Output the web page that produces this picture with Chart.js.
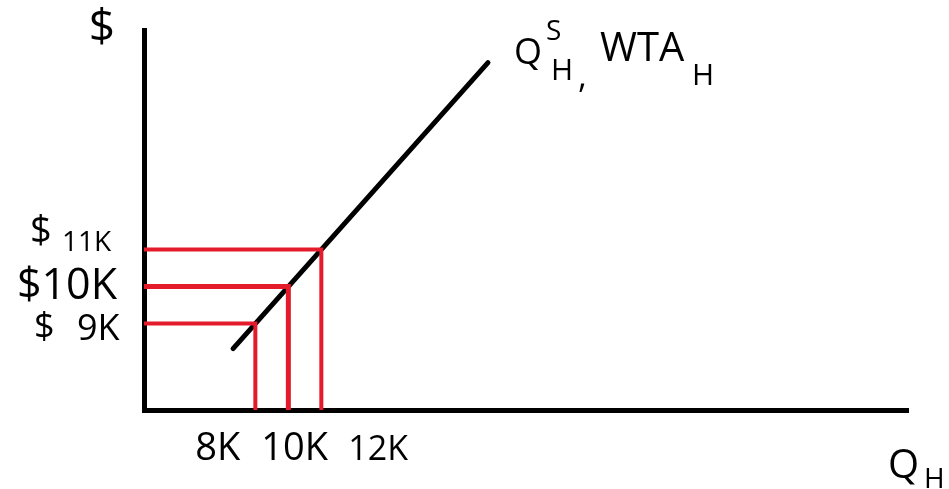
<!DOCTYPE html>
<html>
<head>
<meta charset="utf-8">
<script src="https://cdn.jsdelivr.net/npm/chart.js@4.4.1/dist/chart.umd.min.js"></script>
<style>
  body { margin: 0; background: #fff; }
  #wrap { width: 949px; height: 489px; }
</style>
</head>
<body>
<div id="wrap"><canvas id="supplyChart" width="949" height="489"></canvas></div>
<script>
// Housing supply curve (also WTA) with three price/quantity read-offs
const quantities = [8000, 10000, 12000];
const prices = [9000, 10000, 11000];
const supplyQ = [6650, 22100];
const supplyP = [8320, 16050];
const qRange = [1250, 47560];
const pRange = [6660, 16930];

const RED = '#e31b2b';
const HAND = '"Open Sans", "DejaVu Sans", sans-serif';

function kLabel(v) {
    return (v / 1000) + 'K';
}

// Red guides: across from the price axis to the curve, then down to the quantity axis
const guideSets = quantities.map((q, i) => ({
    data: [
        { x: qRange[0], y: prices[i] },
        { x: q, y: prices[i] },
        { x: q, y: pRange[0] }
    ],
    borderColor: RED,
    borderWidth: i === 1 ? 5 : 4,
    borderJoinStyle: 'miter',
    pointRadius: 0,
    showLine: true
}));

const supplySet = {
    data: supplyQ.map((q, i) => ({ x: q, y: supplyP[i] })),
    borderColor: '#000',
    borderWidth: 5,
    borderCapStyle: 'round',
    pointRadius: 0,
    showLine: true
};

// Hand-lettered annotations
const handLabels = {
    id: 'handLabels',
    afterDraw(chart) {
        const { ctx, scales: { x, y } } = chart;
        const put = (txt, px, py, size, align) => {
            ctx.font = size + 'px ' + HAND;
            ctx.textAlign = align || 'left';
            ctx.fillText(txt, px, py);
        };
        ctx.save();
        ctx.fillStyle = '#000';
        ctx.textBaseline = 'alphabetic';

        // axis names
        put('$', 102, 42, 46, 'center');
        put('Q', 888, 478, 40);
        put('H', 924, 488, 28);

        // curve name
        const end = supplySet.data[1];
        const ex = x.getPixelForValue(end.x);
        const ey = y.getPixelForValue(end.y);
        put('Q', ex + 26, ey + 1, 36);
        put('S', ex + 58, ey - 23, 28);
        put('H', ex + 63, ey + 17, 30);
        put(',', ex + 90, ey + 25, 34);
        put('WTA', ex + 112, ey - 2, 40);
        put('H', ex + 204, ey + 22, 30);

        // quantity read-offs
        const xShift = [-60, -27, 27];
        const xSize = [38, 38, 34];
        quantities.forEach((q, i) => {
            put(kLabel(q), x.getPixelForValue(q) + xShift[i], y.bottom + 50, xSize[i]);
        });

        // price read-offs
        const p9 = y.getPixelForValue(prices[0]);
        put('$', 34, p9 + 15, 36);
        put(kLabel(prices[0]), 77, p9 + 17, 36);
        const p10 = y.getPixelForValue(prices[1]);
        put('$' + kLabel(prices[1]), 117, p10 + 13, 43, 'right');
        const p11 = y.getPixelForValue(prices[2]);
        put('$', 30, p11 - 6, 38);
        put(kLabel(prices[2]), 62, p11 + 2, 28);

        ctx.restore();
    }
};

function initChart() {
    const ctx = document.getElementById('supplyChart').getContext('2d');

    new Chart(ctx, {
        type: 'scatter',
        data: {
            datasets: [...guideSets, supplySet]
        },
        options: {
            responsive: false,
            animation: false,
            layout: { padding: { top: 30, right: 41, left: 0, bottom: 0 } },
            plugins: {
                legend: { display: false },
                tooltip: { enabled: false }
            },
            scales: {
                x: {
                    type: 'linear',
                    min: qRange[0],
                    max: qRange[1],
                    grid: { display: false },
                    ticks: { display: false },
                    border: { display: true, color: '#000', width: 5 },
                    afterFit: scale => { scale.height = 79; }
                },
                y: {
                    type: 'linear',
                    min: pRange[0],
                    max: pRange[1],
                    grid: { display: false },
                    ticks: { display: false },
                    border: { display: true, color: '#000', width: 5 },
                    afterFit: scale => { scale.width = 144; }
                }
            }
        },
        plugins: [handLabels]
    });
}

document.addEventListener('DOMContentLoaded', initChart);
</script>
</body>
</html>
